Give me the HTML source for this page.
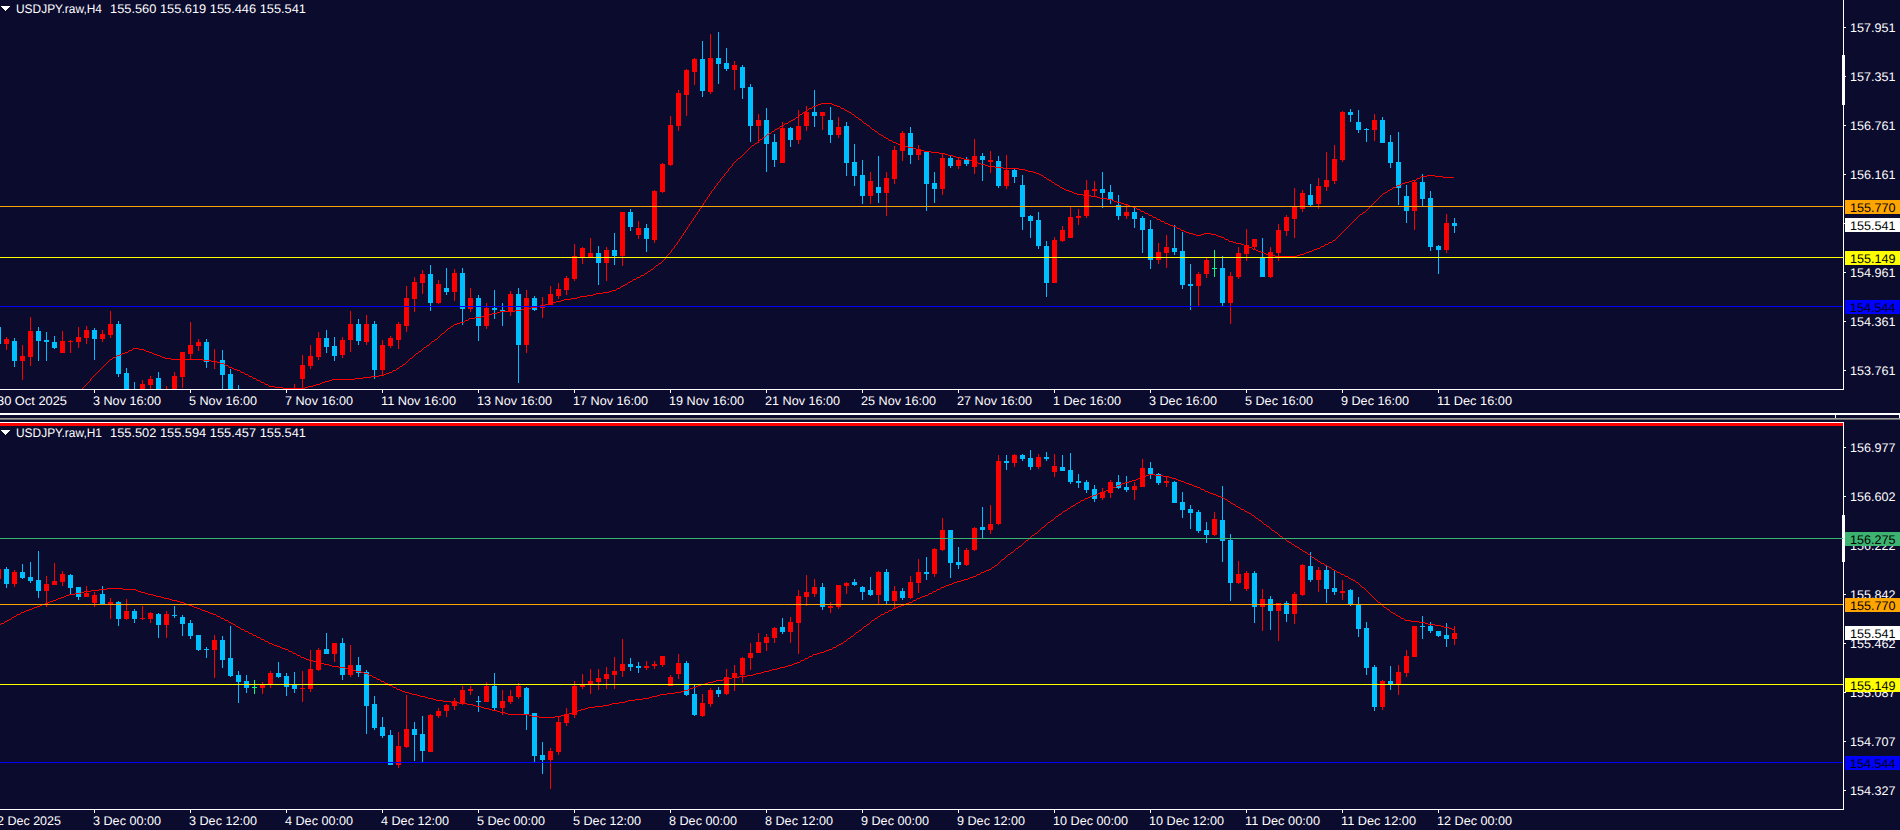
<!DOCTYPE html>
<html><head><meta charset="utf-8"><title>USDJPY.raw</title>
<style>
html,body{margin:0;padding:0;background:#0b0b2e;width:1900px;height:830px;overflow:hidden}
svg{display:block;position:absolute;left:0;top:0}
text{white-space:pre;text-rendering:geometricPrecision}
</style></head><body>
<svg width="1900" height="830" viewBox="0 0 1900 830" shape-rendering="crispEdges" font-family="&quot;Liberation Sans&quot;, sans-serif" font-size="12.5">
<defs><clipPath id="ct"><rect x="0" y="0" width="1843" height="389"/></clipPath><clipPath id="cb"><rect x="0" y="426" width="1843" height="383"/></clipPath></defs>
<rect x="0" y="0" width="1900" height="830" fill="#0b0b2e"/>
<g clip-path="url(#ct)">
<g fill="#ff0000">
<rect x="6" y="337" width="1" height="13"/>
<rect x="4" y="339" width="5" height="5"/>
<rect x="22" y="345" width="1" height="35"/>
<rect x="20" y="356" width="5" height="5"/>
<rect x="30" y="317" width="1" height="49"/>
<rect x="28" y="331" width="5" height="26"/>
<rect x="62" y="331" width="1" height="22"/>
<rect x="60" y="341" width="5" height="12"/>
<rect x="70" y="340" width="1" height="13"/>
<rect x="68" y="341" width="5" height="1"/>
<rect x="78" y="327" width="1" height="21"/>
<rect x="76" y="337" width="5" height="5"/>
<rect x="86" y="326" width="1" height="18"/>
<rect x="84" y="330" width="5" height="8"/>
<rect x="102" y="330" width="1" height="12"/>
<rect x="100" y="334" width="5" height="5"/>
<rect x="110" y="311" width="1" height="27"/>
<rect x="108" y="324" width="5" height="11"/>
<rect x="142" y="380" width="1" height="20"/>
<rect x="140" y="384" width="5" height="16"/>
<rect x="150" y="376" width="1" height="24"/>
<rect x="148" y="379" width="5" height="6"/>
<rect x="166" y="386" width="1" height="14"/>
<rect x="164" y="395" width="5" height="5"/>
<rect x="174" y="372" width="1" height="28"/>
<rect x="172" y="376" width="5" height="24"/>
<rect x="182" y="352" width="1" height="36"/>
<rect x="180" y="352" width="5" height="25"/>
<rect x="190" y="322" width="1" height="37"/>
<rect x="188" y="345" width="5" height="9"/>
<rect x="198" y="339" width="1" height="12"/>
<rect x="196" y="342" width="5" height="4"/>
<rect x="214" y="349" width="1" height="20"/>
<rect x="212" y="361" width="5" height="1"/>
<rect x="294" y="384" width="1" height="16"/>
<rect x="292" y="395" width="5" height="5"/>
<rect x="302" y="355" width="1" height="33"/>
<rect x="300" y="365" width="5" height="14"/>
<rect x="310" y="345" width="1" height="24"/>
<rect x="308" y="356" width="5" height="10"/>
<rect x="318" y="332" width="1" height="28"/>
<rect x="316" y="338" width="5" height="19"/>
<rect x="342" y="337" width="1" height="21"/>
<rect x="340" y="340" width="5" height="15"/>
<rect x="350" y="311" width="1" height="41"/>
<rect x="348" y="324" width="5" height="16"/>
<rect x="366" y="315" width="1" height="30"/>
<rect x="364" y="324" width="5" height="18"/>
<rect x="382" y="340" width="1" height="35"/>
<rect x="380" y="345" width="5" height="25"/>
<rect x="390" y="336" width="1" height="12"/>
<rect x="388" y="338" width="5" height="8"/>
<rect x="398" y="322" width="1" height="27"/>
<rect x="396" y="324" width="5" height="16"/>
<rect x="406" y="286" width="1" height="46"/>
<rect x="404" y="298" width="5" height="28"/>
<rect x="414" y="277" width="1" height="35"/>
<rect x="412" y="282" width="5" height="17"/>
<rect x="422" y="270" width="1" height="24"/>
<rect x="420" y="274" width="5" height="9"/>
<rect x="438" y="280" width="1" height="24"/>
<rect x="436" y="284" width="5" height="19"/>
<rect x="454" y="269" width="1" height="32"/>
<rect x="452" y="273" width="5" height="19"/>
<rect x="470" y="288" width="1" height="24"/>
<rect x="468" y="298" width="5" height="11"/>
<rect x="486" y="303" width="1" height="26"/>
<rect x="484" y="308" width="5" height="18"/>
<rect x="510" y="291" width="1" height="25"/>
<rect x="508" y="294" width="5" height="18"/>
<rect x="526" y="290" width="1" height="63"/>
<rect x="524" y="298" width="5" height="47"/>
<rect x="542" y="297" width="1" height="21"/>
<rect x="540" y="307" width="5" height="1"/>
<rect x="550" y="286" width="1" height="19"/>
<rect x="548" y="294" width="5" height="11"/>
<rect x="558" y="283" width="1" height="16"/>
<rect x="556" y="289" width="5" height="7"/>
<rect x="566" y="276" width="1" height="19"/>
<rect x="564" y="278" width="5" height="12"/>
<rect x="574" y="244" width="1" height="37"/>
<rect x="572" y="256" width="5" height="23"/>
<rect x="582" y="247" width="1" height="17"/>
<rect x="580" y="248" width="5" height="9"/>
<rect x="590" y="238" width="1" height="19"/>
<rect x="588" y="253" width="5" height="4"/>
<rect x="606" y="247" width="1" height="34"/>
<rect x="604" y="250" width="5" height="13"/>
<rect x="622" y="212" width="1" height="54"/>
<rect x="620" y="212" width="5" height="44"/>
<rect x="638" y="221" width="1" height="18"/>
<rect x="636" y="228" width="5" height="7"/>
<rect x="654" y="190" width="1" height="53"/>
<rect x="652" y="191" width="5" height="49"/>
<rect x="662" y="163" width="1" height="30"/>
<rect x="660" y="164" width="5" height="28"/>
<rect x="670" y="116" width="1" height="50"/>
<rect x="668" y="125" width="5" height="40"/>
<rect x="678" y="90" width="1" height="41"/>
<rect x="676" y="93" width="5" height="33"/>
<rect x="686" y="69" width="1" height="47"/>
<rect x="684" y="70" width="5" height="25"/>
<rect x="694" y="58" width="1" height="27"/>
<rect x="692" y="59" width="5" height="13"/>
<rect x="710" y="34" width="1" height="60"/>
<rect x="708" y="58" width="5" height="34"/>
<rect x="734" y="61" width="1" height="29"/>
<rect x="732" y="65" width="5" height="5"/>
<rect x="758" y="114" width="1" height="29"/>
<rect x="756" y="120" width="5" height="6"/>
<rect x="782" y="122" width="1" height="41"/>
<rect x="780" y="128" width="5" height="35"/>
<rect x="798" y="110" width="1" height="34"/>
<rect x="796" y="126" width="5" height="14"/>
<rect x="806" y="106" width="1" height="25"/>
<rect x="804" y="112" width="5" height="14"/>
<rect x="822" y="112" width="1" height="18"/>
<rect x="820" y="112" width="5" height="4"/>
<rect x="838" y="117" width="1" height="21"/>
<rect x="836" y="127" width="5" height="8"/>
<rect x="870" y="172" width="1" height="32"/>
<rect x="868" y="181" width="5" height="15"/>
<rect x="886" y="172" width="1" height="44"/>
<rect x="884" y="178" width="5" height="15"/>
<rect x="894" y="146" width="1" height="38"/>
<rect x="892" y="150" width="5" height="29"/>
<rect x="902" y="131" width="1" height="30"/>
<rect x="900" y="133" width="5" height="18"/>
<rect x="918" y="145" width="1" height="15"/>
<rect x="916" y="150" width="5" height="5"/>
<rect x="942" y="154" width="1" height="41"/>
<rect x="940" y="158" width="5" height="31"/>
<rect x="958" y="157" width="1" height="12"/>
<rect x="956" y="160" width="5" height="6"/>
<rect x="974" y="139" width="1" height="35"/>
<rect x="972" y="156" width="5" height="11"/>
<rect x="990" y="151" width="1" height="22"/>
<rect x="988" y="160" width="5" height="2"/>
<rect x="1006" y="155" width="1" height="34"/>
<rect x="1004" y="170" width="5" height="16"/>
<rect x="1054" y="237" width="1" height="46"/>
<rect x="1052" y="240" width="5" height="43"/>
<rect x="1062" y="226" width="1" height="16"/>
<rect x="1060" y="230" width="5" height="11"/>
<rect x="1070" y="207" width="1" height="31"/>
<rect x="1068" y="217" width="5" height="21"/>
<rect x="1078" y="209" width="1" height="16"/>
<rect x="1076" y="216" width="5" height="2"/>
<rect x="1086" y="180" width="1" height="38"/>
<rect x="1084" y="190" width="5" height="26"/>
<rect x="1094" y="181" width="1" height="16"/>
<rect x="1092" y="189" width="5" height="2"/>
<rect x="1126" y="204" width="1" height="15"/>
<rect x="1124" y="212" width="5" height="4"/>
<rect x="1158" y="243" width="1" height="21"/>
<rect x="1156" y="252" width="5" height="8"/>
<rect x="1166" y="235" width="1" height="33"/>
<rect x="1164" y="247" width="5" height="6"/>
<rect x="1198" y="272" width="1" height="34"/>
<rect x="1196" y="274" width="5" height="12"/>
<rect x="1206" y="258" width="1" height="20"/>
<rect x="1204" y="260" width="5" height="14"/>
<rect x="1230" y="272" width="1" height="52"/>
<rect x="1228" y="276" width="5" height="27"/>
<rect x="1238" y="247" width="1" height="32"/>
<rect x="1236" y="253" width="5" height="24"/>
<rect x="1246" y="229" width="1" height="32"/>
<rect x="1244" y="245" width="5" height="9"/>
<rect x="1254" y="239" width="1" height="10"/>
<rect x="1252" y="239" width="5" height="8"/>
<rect x="1270" y="247" width="1" height="31"/>
<rect x="1268" y="252" width="5" height="25"/>
<rect x="1278" y="224" width="1" height="37"/>
<rect x="1276" y="230" width="5" height="23"/>
<rect x="1286" y="215" width="1" height="21"/>
<rect x="1284" y="217" width="5" height="14"/>
<rect x="1294" y="188" width="1" height="50"/>
<rect x="1292" y="206" width="5" height="13"/>
<rect x="1302" y="190" width="1" height="22"/>
<rect x="1300" y="193" width="5" height="16"/>
<rect x="1318" y="178" width="1" height="31"/>
<rect x="1316" y="186" width="5" height="18"/>
<rect x="1326" y="152" width="1" height="39"/>
<rect x="1324" y="180" width="5" height="7"/>
<rect x="1334" y="145" width="1" height="39"/>
<rect x="1332" y="159" width="5" height="22"/>
<rect x="1342" y="111" width="1" height="51"/>
<rect x="1340" y="112" width="5" height="48"/>
<rect x="1374" y="114" width="1" height="27"/>
<rect x="1372" y="120" width="5" height="10"/>
<rect x="1414" y="180" width="1" height="50"/>
<rect x="1412" y="182" width="5" height="29"/>
<rect x="1446" y="214" width="1" height="39"/>
<rect x="1444" y="223" width="5" height="27"/>
</g>
<g fill="#00bfff">
<rect x="-2" y="327" width="1" height="17"/>
<rect x="-4" y="327" width="5" height="17"/>
<rect x="14" y="338" width="1" height="29"/>
<rect x="12" y="341" width="5" height="20"/>
<rect x="38" y="327" width="1" height="34"/>
<rect x="36" y="331" width="5" height="10"/>
<rect x="46" y="332" width="1" height="29"/>
<rect x="44" y="340" width="5" height="2"/>
<rect x="54" y="336" width="1" height="13"/>
<rect x="52" y="342" width="5" height="6"/>
<rect x="94" y="328" width="1" height="32"/>
<rect x="92" y="330" width="5" height="9"/>
<rect x="118" y="321" width="1" height="56"/>
<rect x="116" y="324" width="5" height="50"/>
<rect x="126" y="368" width="1" height="32"/>
<rect x="124" y="373" width="5" height="27"/>
<rect x="134" y="382" width="1" height="18"/>
<rect x="132" y="395" width="5" height="5"/>
<rect x="158" y="372" width="1" height="28"/>
<rect x="156" y="378" width="5" height="22"/>
<rect x="206" y="339" width="1" height="29"/>
<rect x="204" y="342" width="5" height="20"/>
<rect x="222" y="350" width="1" height="50"/>
<rect x="220" y="360" width="5" height="15"/>
<rect x="230" y="369" width="1" height="31"/>
<rect x="228" y="374" width="5" height="26"/>
<rect x="238" y="385" width="1" height="15"/>
<rect x="236" y="395" width="5" height="5"/>
<rect x="326" y="330" width="1" height="23"/>
<rect x="324" y="338" width="5" height="9"/>
<rect x="334" y="337" width="1" height="24"/>
<rect x="332" y="346" width="5" height="10"/>
<rect x="358" y="319" width="1" height="26"/>
<rect x="356" y="324" width="5" height="17"/>
<rect x="374" y="321" width="1" height="58"/>
<rect x="372" y="324" width="5" height="46"/>
<rect x="430" y="265" width="1" height="46"/>
<rect x="428" y="274" width="5" height="29"/>
<rect x="446" y="268" width="1" height="27"/>
<rect x="444" y="288" width="5" height="4"/>
<rect x="462" y="268" width="1" height="57"/>
<rect x="460" y="273" width="5" height="36"/>
<rect x="478" y="295" width="1" height="46"/>
<rect x="476" y="298" width="5" height="28"/>
<rect x="494" y="290" width="1" height="29"/>
<rect x="492" y="308" width="5" height="2"/>
<rect x="502" y="303" width="1" height="23"/>
<rect x="500" y="310" width="5" height="1"/>
<rect x="518" y="288" width="1" height="95"/>
<rect x="516" y="294" width="5" height="51"/>
<rect x="534" y="296" width="1" height="15"/>
<rect x="532" y="298" width="5" height="12"/>
<rect x="598" y="246" width="1" height="39"/>
<rect x="596" y="253" width="5" height="10"/>
<rect x="614" y="233" width="1" height="32"/>
<rect x="612" y="250" width="5" height="6"/>
<rect x="630" y="209" width="1" height="22"/>
<rect x="628" y="212" width="5" height="15"/>
<rect x="646" y="224" width="1" height="28"/>
<rect x="644" y="228" width="5" height="11"/>
<rect x="702" y="41" width="1" height="56"/>
<rect x="700" y="59" width="5" height="32"/>
<rect x="718" y="32" width="1" height="52"/>
<rect x="716" y="58" width="5" height="6"/>
<rect x="726" y="48" width="1" height="23"/>
<rect x="724" y="63" width="5" height="6"/>
<rect x="742" y="65" width="1" height="34"/>
<rect x="740" y="67" width="5" height="21"/>
<rect x="750" y="84" width="1" height="58"/>
<rect x="748" y="87" width="5" height="39"/>
<rect x="766" y="108" width="1" height="64"/>
<rect x="764" y="120" width="5" height="24"/>
<rect x="774" y="134" width="1" height="33"/>
<rect x="772" y="142" width="5" height="18"/>
<rect x="790" y="127" width="1" height="20"/>
<rect x="788" y="128" width="5" height="12"/>
<rect x="814" y="90" width="1" height="37"/>
<rect x="812" y="112" width="5" height="4"/>
<rect x="830" y="107" width="1" height="36"/>
<rect x="828" y="120" width="5" height="15"/>
<rect x="846" y="122" width="1" height="54"/>
<rect x="844" y="126" width="5" height="37"/>
<rect x="854" y="144" width="1" height="42"/>
<rect x="852" y="162" width="5" height="14"/>
<rect x="862" y="160" width="1" height="44"/>
<rect x="860" y="175" width="5" height="21"/>
<rect x="878" y="156" width="1" height="47"/>
<rect x="876" y="187" width="5" height="6"/>
<rect x="910" y="127" width="1" height="37"/>
<rect x="908" y="133" width="5" height="22"/>
<rect x="926" y="151" width="1" height="60"/>
<rect x="924" y="151" width="5" height="33"/>
<rect x="934" y="172" width="1" height="31"/>
<rect x="932" y="183" width="5" height="6"/>
<rect x="950" y="155" width="1" height="13"/>
<rect x="948" y="158" width="5" height="8"/>
<rect x="966" y="157" width="1" height="9"/>
<rect x="964" y="160" width="5" height="4"/>
<rect x="982" y="153" width="1" height="28"/>
<rect x="980" y="156" width="5" height="4"/>
<rect x="998" y="156" width="1" height="32"/>
<rect x="996" y="161" width="5" height="25"/>
<rect x="1014" y="169" width="1" height="14"/>
<rect x="1012" y="170" width="5" height="7"/>
<rect x="1022" y="175" width="1" height="55"/>
<rect x="1020" y="185" width="5" height="32"/>
<rect x="1030" y="215" width="1" height="23"/>
<rect x="1028" y="216" width="5" height="5"/>
<rect x="1038" y="212" width="1" height="37"/>
<rect x="1036" y="220" width="5" height="26"/>
<rect x="1046" y="241" width="1" height="56"/>
<rect x="1044" y="246" width="5" height="37"/>
<rect x="1102" y="172" width="1" height="36"/>
<rect x="1100" y="189" width="5" height="4"/>
<rect x="1110" y="185" width="1" height="19"/>
<rect x="1108" y="192" width="5" height="8"/>
<rect x="1118" y="195" width="1" height="25"/>
<rect x="1116" y="205" width="5" height="11"/>
<rect x="1134" y="208" width="1" height="20"/>
<rect x="1132" y="212" width="5" height="7"/>
<rect x="1142" y="216" width="1" height="37"/>
<rect x="1140" y="218" width="5" height="12"/>
<rect x="1150" y="220" width="1" height="49"/>
<rect x="1148" y="229" width="5" height="31"/>
<rect x="1174" y="225" width="1" height="30"/>
<rect x="1172" y="248" width="5" height="4"/>
<rect x="1182" y="232" width="1" height="57"/>
<rect x="1180" y="251" width="5" height="34"/>
<rect x="1190" y="264" width="1" height="46"/>
<rect x="1188" y="284" width="5" height="2"/>
<rect x="1222" y="256" width="1" height="50"/>
<rect x="1220" y="268" width="5" height="35"/>
<rect x="1262" y="238" width="1" height="39"/>
<rect x="1260" y="258" width="5" height="19"/>
<rect x="1310" y="184" width="1" height="22"/>
<rect x="1308" y="195" width="5" height="10"/>
<rect x="1350" y="109" width="1" height="13"/>
<rect x="1348" y="112" width="5" height="3"/>
<rect x="1358" y="110" width="1" height="23"/>
<rect x="1356" y="122" width="5" height="8"/>
<rect x="1366" y="128" width="1" height="14"/>
<rect x="1364" y="129" width="5" height="1"/>
<rect x="1382" y="117" width="1" height="26"/>
<rect x="1380" y="120" width="5" height="23"/>
<rect x="1390" y="135" width="1" height="33"/>
<rect x="1388" y="142" width="5" height="21"/>
<rect x="1398" y="132" width="1" height="73"/>
<rect x="1396" y="162" width="5" height="26"/>
<rect x="1406" y="185" width="1" height="38"/>
<rect x="1404" y="196" width="5" height="15"/>
<rect x="1422" y="174" width="1" height="32"/>
<rect x="1420" y="182" width="5" height="17"/>
<rect x="1430" y="191" width="1" height="60"/>
<rect x="1428" y="198" width="5" height="49"/>
<rect x="1438" y="245" width="1" height="29"/>
<rect x="1436" y="246" width="5" height="4"/>
<rect x="1454" y="218" width="1" height="15"/>
<rect x="1452" y="223" width="5" height="3"/>
</g>
<g fill="#00ff7f">
<rect x="1214" y="250" width="1" height="27"/>
<rect x="1212" y="268" width="5" height="1"/>
</g>
</g>
<path fill="#ff0000" d="M821 103h11v1h-11zM818 104h3v1h-3zM832 104h2v1h-2zM816 105h2v1h-2zM834 105h3v1h-3zM813 106h3v1h-3zM837 106h3v1h-3zM812 107h1v1h-1zM840 107h1v1h-1zM809 108h3v1h-3zM841 108h3v1h-3zM808 109h1v1h-1zM844 109h1v1h-1zM806 110h2v1h-2zM845 110h2v1h-2zM805 111h1v1h-1zM847 111h2v1h-2zM803 112h2v1h-2zM849 112h2v1h-2zM802 113h1v1h-1zM851 113h1v1h-1zM800 114h2v1h-2zM852 114h2v1h-2zM799 115h1v1h-1zM854 115h1v1h-1zM798 116h1v1h-1zM855 116h1v1h-1zM796 117h2v1h-2zM856 117h2v1h-2zM795 118h1v1h-1zM858 118h1v1h-1zM793 119h2v1h-2zM859 119h2v1h-2zM791 120h2v1h-2zM861 120h1v1h-1zM789 121h2v1h-2zM862 121h1v1h-1zM788 122h1v1h-1zM863 122h1v1h-1zM785 123h3v1h-3zM864 123h2v1h-2zM784 124h1v1h-1zM866 124h1v1h-1zM782 125h2v1h-2zM867 125h2v1h-2zM780 126h2v1h-2zM869 126h1v1h-1zM779 127h1v1h-1zM870 127h1v1h-1zM777 128h2v1h-2zM871 128h1v1h-1zM775 129h2v1h-2zM872 129h2v1h-2zM774 130h1v1h-1zM874 130h1v1h-1zM772 131h2v1h-2zM875 131h2v1h-2zM771 132h1v1h-1zM877 132h1v1h-1zM769 133h2v1h-2zM878 133h1v1h-1zM767 134h2v1h-2zM879 134h2v1h-2zM766 135h1v1h-1zM881 135h2v1h-2zM765 136h1v1h-1zM883 136h1v1h-1zM763 137h2v1h-2zM884 137h2v1h-2zM762 138h1v1h-1zM886 138h2v1h-2zM760 139h2v1h-2zM888 139h1v1h-1zM759 140h1v1h-1zM889 140h3v1h-3zM758 141h1v1h-1zM892 141h1v1h-1zM757 142h1v1h-1zM893 142h3v1h-3zM755 143h2v1h-2zM896 143h2v1h-2zM754 144h1v1h-1zM898 144h3v1h-3zM752 145h2v1h-2zM901 145h4v1h-4zM751 146h1v1h-1zM905 146h3v1h-3zM750 147h1v1h-1zM908 147h5v1h-5zM749 148h1v1h-1zM913 148h3v1h-3zM748 149h1v1h-1zM916 149h5v1h-5zM747 150h1v1h-1zM921 150h3v1h-3zM746 151h1v1h-1zM924 151h7v1h-7zM745 152h1v1h-1zM931 152h8v1h-8zM744 153h1v1h-1zM939 153h6v1h-6zM743 154h1v1h-1zM945 154h3v1h-3zM742 155h1v1h-1zM948 155h5v1h-5zM741 156h1v1h-1zM953 156h3v1h-3zM740 157h1v1h-1zM956 157h5v1h-5zM738 158h2v1h-2zM961 158h3v1h-3zM737 159h1v1h-1zM964 159h5v1h-5zM736 160h1v1h-1zM969 160h3v1h-3zM735 161h1v1h-1zM972 161h4v1h-4zM734 162h1v1h-1zM976 162h2v1h-2zM733 163h1v1h-1zM978 163h3v1h-3zM732 164h1v1h-1zM981 164h4v1h-4zM732 165h1v1h-1zM985 165h3v1h-3zM731 166h1v1h-1zM988 166h7v1h-7zM730 167h1v1h-1zM995 167h8v1h-8zM729 168h1v1h-1zM1003 168h16v1h-16zM728 169h1v1h-1zM1019 169h6v1h-6zM728 170h1v1h-1zM1025 170h3v1h-3zM727 171h1v1h-1zM1028 171h5v1h-5zM726 172h1v1h-1zM1033 172h3v1h-3zM725 173h1v1h-1zM1036 173h3v1h-3zM724 174h1v1h-1zM1039 174h2v1h-2zM724 175h1v1h-1zM1041 175h2v1h-2zM1427 175h8v1h-8zM723 176h1v1h-1zM1043 176h1v1h-1zM1421 176h6v1h-6zM1435 176h8v1h-8zM722 177h1v1h-1zM1044 177h2v1h-2zM1420 177h1v1h-1zM1443 177h11v1h-11zM721 178h1v1h-1zM1046 178h1v1h-1zM1417 178h3v1h-3zM720 179h1v1h-1zM1047 179h2v1h-2zM1416 179h1v1h-1zM720 180h1v1h-1zM1049 180h2v1h-2zM1412 180h4v1h-4zM719 181h1v1h-1zM1051 181h1v1h-1zM1409 181h3v1h-3zM718 182h1v1h-1zM1052 182h2v1h-2zM1405 182h4v1h-4zM717 183h1v1h-1zM1054 183h1v1h-1zM1402 183h3v1h-3zM717 184h1v1h-1zM1055 184h2v1h-2zM1400 184h2v1h-2zM716 185h1v1h-1zM1057 185h2v1h-2zM1397 185h3v1h-3zM715 186h1v1h-1zM1059 186h1v1h-1zM1396 186h1v1h-1zM714 187h1v1h-1zM1060 187h2v1h-2zM1393 187h3v1h-3zM714 188h1v1h-1zM1062 188h2v1h-2zM1392 188h1v1h-1zM713 189h1v1h-1zM1064 189h2v1h-2zM1390 189h2v1h-2zM712 190h1v1h-1zM1066 190h3v1h-3zM1388 190h2v1h-2zM711 191h1v1h-1zM1069 191h3v1h-3zM1387 191h1v1h-1zM711 192h1v1h-1zM1072 192h2v1h-2zM1385 192h2v1h-2zM710 193h1v1h-1zM1074 193h3v1h-3zM1383 193h2v1h-2zM709 194h1v1h-1zM1077 194h6v1h-6zM1382 194h1v1h-1zM709 195h1v1h-1zM1083 195h8v1h-8zM1381 195h1v1h-1zM708 196h1v1h-1zM1091 196h6v1h-6zM1380 196h1v1h-1zM707 197h1v1h-1zM1097 197h3v1h-3zM1379 197h1v1h-1zM707 198h1v1h-1zM1100 198h7v1h-7zM1378 198h1v1h-1zM706 199h1v1h-1zM1107 199h5v1h-5zM1377 199h1v1h-1zM705 200h1v1h-1zM1112 200h2v1h-2zM1376 200h1v1h-1zM705 201h1v1h-1zM1114 201h3v1h-3zM1375 201h1v1h-1zM704 202h1v1h-1zM1117 202h4v1h-4zM1374 202h1v1h-1zM703 203h1v1h-1zM1121 203h3v1h-3zM1373 203h1v1h-1zM703 204h1v1h-1zM1124 204h4v1h-4zM1372 204h1v1h-1zM702 205h1v1h-1zM1128 205h2v1h-2zM1371 205h1v1h-1zM701 206h1v1h-1zM1130 206h3v1h-3zM1370 206h1v1h-1zM701 207h1v1h-1zM1133 207h3v1h-3zM1369 207h1v1h-1zM700 208h1v1h-1zM1136 208h1v1h-1zM1368 208h1v1h-1zM699 209h1v1h-1zM1137 209h3v1h-3zM1367 209h1v1h-1zM699 210h1v1h-1zM1140 210h1v1h-1zM1366 210h1v1h-1zM698 211h1v1h-1zM1141 211h3v1h-3zM1365 211h1v1h-1zM697 212h1v1h-1zM1144 212h1v1h-1zM1363 212h2v1h-2zM697 213h1v1h-1zM1145 213h3v1h-3zM1362 213h1v1h-1zM696 214h1v1h-1zM1148 214h1v1h-1zM1360 214h2v1h-2zM695 215h1v1h-1zM1149 215h3v1h-3zM1359 215h1v1h-1zM695 216h1v1h-1zM1152 216h1v1h-1zM1358 216h1v1h-1zM694 217h1v1h-1zM1153 217h3v1h-3zM1357 217h1v1h-1zM693 218h1v1h-1zM1156 218h1v1h-1zM1356 218h1v1h-1zM693 219h1v1h-1zM1157 219h3v1h-3zM1355 219h1v1h-1zM692 220h1v1h-1zM1160 220h1v1h-1zM1354 220h1v1h-1zM691 221h1v1h-1zM1161 221h3v1h-3zM1353 221h1v1h-1zM691 222h1v1h-1zM1164 222h1v1h-1zM1352 222h1v1h-1zM690 223h1v1h-1zM1165 223h3v1h-3zM1351 223h1v1h-1zM689 224h1v1h-1zM1168 224h2v1h-2zM1350 224h1v1h-1zM689 225h1v1h-1zM1170 225h3v1h-3zM1349 225h1v1h-1zM688 226h1v1h-1zM1173 226h3v1h-3zM1348 226h1v1h-1zM687 227h1v1h-1zM1176 227h1v1h-1zM1347 227h1v1h-1zM687 228h1v1h-1zM1177 228h3v1h-3zM1346 228h1v1h-1zM686 229h1v1h-1zM1180 229h1v1h-1zM1345 229h1v1h-1zM685 230h1v1h-1zM1181 230h3v1h-3zM1344 230h1v1h-1zM685 231h1v1h-1zM1184 231h2v1h-2zM1343 231h1v1h-1zM684 232h1v1h-1zM1186 232h3v1h-3zM1342 232h1v1h-1zM683 233h1v1h-1zM1189 233h4v1h-4zM1204 233h7v1h-7zM1341 233h1v1h-1zM683 234h1v1h-1zM1193 234h3v1h-3zM1201 234h3v1h-3zM1211 234h5v1h-5zM1340 234h1v1h-1zM682 235h1v1h-1zM1196 235h5v1h-5zM1216 235h2v1h-2zM1339 235h1v1h-1zM681 236h1v1h-1zM1218 236h3v1h-3zM1338 236h1v1h-1zM681 237h1v1h-1zM1221 237h3v1h-3zM1337 237h1v1h-1zM680 238h1v1h-1zM1224 238h1v1h-1zM1336 238h1v1h-1zM679 239h1v1h-1zM1225 239h3v1h-3zM1335 239h1v1h-1zM679 240h1v1h-1zM1228 240h1v1h-1zM1333 240h2v1h-2zM678 241h1v1h-1zM1229 241h4v1h-4zM1332 241h1v1h-1zM677 242h1v1h-1zM1233 242h3v1h-3zM1329 242h3v1h-3zM677 243h1v1h-1zM1236 243h5v1h-5zM1328 243h1v1h-1zM676 244h1v1h-1zM1241 244h3v1h-3zM1325 244h3v1h-3zM675 245h1v1h-1zM1244 245h4v1h-4zM1324 245h1v1h-1zM674 246h1v1h-1zM1248 246h1v1h-1zM1321 246h3v1h-3zM674 247h1v1h-1zM1249 247h3v1h-3zM1320 247h1v1h-1zM673 248h1v1h-1zM1252 248h1v1h-1zM1317 248h3v1h-3zM672 249h1v1h-1zM1253 249h3v1h-3zM1314 249h3v1h-3zM671 250h1v1h-1zM1256 250h2v1h-2zM1312 250h2v1h-2zM671 251h1v1h-1zM1258 251h3v1h-3zM1309 251h3v1h-3zM670 252h1v1h-1zM1261 252h3v1h-3zM1306 252h3v1h-3zM669 253h1v1h-1zM1264 253h2v1h-2zM1304 253h2v1h-2zM668 254h1v1h-1zM1266 254h3v1h-3zM1300 254h4v1h-4zM667 255h1v1h-1zM1269 255h6v1h-6zM1297 255h3v1h-3zM666 256h1v1h-1zM1275 256h22v1h-22zM666 257h1v1h-1zM665 258h1v1h-1zM664 259h1v1h-1zM663 260h1v1h-1zM662 261h1v1h-1zM661 262h1v1h-1zM659 263h2v1h-2zM658 264h1v1h-1zM656 265h2v1h-2zM655 266h1v1h-1zM654 267h1v1h-1zM653 268h1v1h-1zM651 269h2v1h-2zM650 270h1v1h-1zM648 271h2v1h-2zM647 272h1v1h-1zM645 273h2v1h-2zM644 274h1v1h-1zM641 275h3v1h-3zM640 276h1v1h-1zM637 277h3v1h-3zM636 278h1v1h-1zM633 279h3v1h-3zM632 280h1v1h-1zM630 281h2v1h-2zM628 282h2v1h-2zM627 283h1v1h-1zM625 284h2v1h-2zM623 285h2v1h-2zM621 286h2v1h-2zM620 287h1v1h-1zM617 288h3v1h-3zM616 289h1v1h-1zM612 290h4v1h-4zM609 291h3v1h-3zM603 292h6v1h-6zM596 293h7v1h-7zM593 294h3v1h-3zM587 295h6v1h-6zM580 296h7v1h-7zM577 297h3v1h-3zM571 298h6v1h-6zM564 299h7v1h-7zM561 300h3v1h-3zM556 301h5v1h-5zM553 302h3v1h-3zM548 303h5v1h-5zM545 304h3v1h-3zM540 305h5v1h-5zM537 306h3v1h-3zM531 307h6v1h-6zM524 308h7v1h-7zM521 309h3v1h-3zM515 310h6v1h-6zM500 311h15v1h-15zM497 312h3v1h-3zM492 313h5v1h-5zM489 314h3v1h-3zM484 315h5v1h-5zM481 316h3v1h-3zM475 317h6v1h-6zM469 318h6v1h-6zM468 319h1v1h-1zM465 320h3v1h-3zM464 321h1v1h-1zM460 322h4v1h-4zM457 323h3v1h-3zM454 324h3v1h-3zM453 325h1v1h-1zM451 326h2v1h-2zM450 327h1v1h-1zM448 328h2v1h-2zM447 329h1v1h-1zM446 330h1v1h-1zM445 331h1v1h-1zM444 332h1v1h-1zM442 333h2v1h-2zM441 334h1v1h-1zM440 335h1v1h-1zM439 336h1v1h-1zM438 337h1v1h-1zM437 338h1v1h-1zM435 339h2v1h-2zM434 340h1v1h-1zM432 341h2v1h-2zM431 342h1v1h-1zM430 343h1v1h-1zM429 344h1v1h-1zM427 345h2v1h-2zM426 346h1v1h-1zM424 347h2v1h-2zM133 348h6v1h-6zM423 348h1v1h-1zM132 349h1v1h-1zM139 349h5v1h-5zM422 349h1v1h-1zM129 350h3v1h-3zM144 350h2v1h-2zM421 350h1v1h-1zM128 351h1v1h-1zM146 351h3v1h-3zM419 351h2v1h-2zM125 352h3v1h-3zM149 352h3v1h-3zM418 352h1v1h-1zM122 353h3v1h-3zM152 353h2v1h-2zM416 353h2v1h-2zM120 354h2v1h-2zM154 354h3v1h-3zM415 354h1v1h-1zM117 355h3v1h-3zM157 355h3v1h-3zM414 355h1v1h-1zM116 356h1v1h-1zM160 356h2v1h-2zM413 356h1v1h-1zM113 357h3v1h-3zM162 357h3v1h-3zM412 357h1v1h-1zM112 358h1v1h-1zM165 358h6v1h-6zM410 358h2v1h-2zM110 359h2v1h-2zM171 359h32v1h-32zM409 359h1v1h-1zM109 360h1v1h-1zM203 360h8v1h-8zM408 360h1v1h-1zM108 361h1v1h-1zM211 361h6v1h-6zM407 361h1v1h-1zM107 362h1v1h-1zM217 362h3v1h-3zM406 362h1v1h-1zM106 363h1v1h-1zM220 363h4v1h-4zM405 363h1v1h-1zM105 364h1v1h-1zM224 364h1v1h-1zM403 364h2v1h-2zM104 365h1v1h-1zM225 365h3v1h-3zM402 365h1v1h-1zM103 366h1v1h-1zM228 366h1v1h-1zM400 366h2v1h-2zM102 367h1v1h-1zM229 367h3v1h-3zM399 367h1v1h-1zM101 368h1v1h-1zM232 368h2v1h-2zM397 368h2v1h-2zM100 369h1v1h-1zM234 369h3v1h-3zM396 369h1v1h-1zM99 370h1v1h-1zM237 370h3v1h-3zM393 370h3v1h-3zM98 371h1v1h-1zM240 371h1v1h-1zM392 371h1v1h-1zM97 372h1v1h-1zM241 372h3v1h-3zM389 372h3v1h-3zM96 373h1v1h-1zM244 373h1v1h-1zM386 373h3v1h-3zM95 374h1v1h-1zM245 374h3v1h-3zM384 374h2v1h-2zM94 375h1v1h-1zM248 375h1v1h-1zM379 375h5v1h-5zM93 376h1v1h-1zM249 376h3v1h-3zM371 376h8v1h-8zM92 377h1v1h-1zM252 377h1v1h-1zM363 377h8v1h-8zM91 378h1v1h-1zM253 378h3v1h-3zM355 378h8v1h-8zM90 379h1v1h-1zM256 379h1v1h-1zM332 379h23v1h-23zM90 380h1v1h-1zM257 380h3v1h-3zM329 380h3v1h-3zM89 381h1v1h-1zM260 381h1v1h-1zM325 381h4v1h-4zM88 382h1v1h-1zM261 382h3v1h-3zM322 382h3v1h-3zM87 383h1v1h-1zM264 383h1v1h-1zM320 383h2v1h-2zM86 384h1v1h-1zM265 384h3v1h-3zM316 384h4v1h-4zM85 385h1v1h-1zM268 385h1v1h-1zM313 385h3v1h-3zM84 386h1v1h-1zM269 386h6v1h-6zM308 386h5v1h-5zM83 387h1v1h-1zM275 387h8v1h-8zM305 387h3v1h-3zM82 388h1v1h-1zM283 388h22v1h-22z"/>
<rect x="0" y="206" width="1843" height="1" fill="#ffa500"/>
<rect x="0" y="257" width="1843" height="1" fill="#ffff00"/>
<rect x="0" y="306" width="1843" height="1" fill="#0000ff"/>
<rect x="1843" y="0" width="1" height="390" fill="#fff"/>
<rect x="0" y="389" width="1844" height="1" fill="#fff"/>
<rect x="1842" y="55" width="3" height="50" fill="#fff"/>
<rect x="1844" y="27" width="2" height="1" fill="#fff"/>
<text x="1850" y="32" fill="#fff" textLength="45.5" lengthAdjust="spacingAndGlyphs">157.951</text>
<rect x="1844" y="76" width="2" height="1" fill="#fff"/>
<text x="1850" y="81" fill="#fff" textLength="45.5" lengthAdjust="spacingAndGlyphs">157.351</text>
<rect x="1844" y="125" width="2" height="1" fill="#fff"/>
<text x="1850" y="130" fill="#fff" textLength="45.5" lengthAdjust="spacingAndGlyphs">156.761</text>
<rect x="1844" y="174" width="2" height="1" fill="#fff"/>
<text x="1850" y="179" fill="#fff" textLength="45.5" lengthAdjust="spacingAndGlyphs">156.161</text>
<rect x="1844" y="272" width="2" height="1" fill="#fff"/>
<text x="1850" y="277" fill="#fff" textLength="45.5" lengthAdjust="spacingAndGlyphs">154.961</text>
<rect x="1844" y="321" width="2" height="1" fill="#fff"/>
<text x="1850" y="326" fill="#fff" textLength="45.5" lengthAdjust="spacingAndGlyphs">154.361</text>
<rect x="1844" y="370" width="2" height="1" fill="#fff"/>
<text x="1850" y="375" fill="#fff" textLength="45.5" lengthAdjust="spacingAndGlyphs">153.761</text>
<rect x="1845" y="200" width="55" height="14" fill="#ffa500"/>
<text x="1850" y="212" fill="#000" textLength="45.5" lengthAdjust="spacingAndGlyphs">155.770</text>
<rect x="1844" y="223" width="1" height="1" fill="#fff"/>
<rect x="1845" y="218" width="55" height="14" fill="#ffffff"/>
<text x="1850" y="230" fill="#000" textLength="45.5" lengthAdjust="spacingAndGlyphs">155.541</text>
<rect x="1845" y="251" width="55" height="14" fill="#ffff00"/>
<text x="1850" y="263" fill="#000" textLength="45.5" lengthAdjust="spacingAndGlyphs">155.149</text>
<rect x="1845" y="300" width="55" height="14" fill="#0000ff"/>
<text x="1850" y="312" fill="#000" textLength="45.5" lengthAdjust="spacingAndGlyphs">154.544</text>
<path d="M1 6h9l-4.5 5z" fill="#fff" shape-rendering="crispEdges"/>
<text x="16" y="13" fill="#fff" textLength="86" lengthAdjust="spacingAndGlyphs">USDJPY.raw,H4</text>
<text x="110" y="13" fill="#fff" textLength="196" lengthAdjust="spacingAndGlyphs">155.560 155.619 155.446 155.541</text>
<text x="-3" y="405" fill="#fff" textLength="70" lengthAdjust="spacingAndGlyphs">30 Oct 2025</text>
<rect x="94" y="390" width="1" height="3" fill="#fff"/>
<text x="93" y="405" fill="#fff" textLength="68" lengthAdjust="spacingAndGlyphs">3 Nov 16:00</text>
<rect x="190" y="390" width="1" height="3" fill="#fff"/>
<text x="189" y="405" fill="#fff" textLength="68" lengthAdjust="spacingAndGlyphs">5 Nov 16:00</text>
<rect x="286" y="390" width="1" height="3" fill="#fff"/>
<text x="285" y="405" fill="#fff" textLength="68" lengthAdjust="spacingAndGlyphs">7 Nov 16:00</text>
<rect x="382" y="390" width="1" height="3" fill="#fff"/>
<text x="381" y="405" fill="#fff" textLength="75" lengthAdjust="spacingAndGlyphs">11 Nov 16:00</text>
<rect x="478" y="390" width="1" height="3" fill="#fff"/>
<text x="477" y="405" fill="#fff" textLength="75" lengthAdjust="spacingAndGlyphs">13 Nov 16:00</text>
<rect x="574" y="390" width="1" height="3" fill="#fff"/>
<text x="573" y="405" fill="#fff" textLength="75" lengthAdjust="spacingAndGlyphs">17 Nov 16:00</text>
<rect x="670" y="390" width="1" height="3" fill="#fff"/>
<text x="669" y="405" fill="#fff" textLength="75" lengthAdjust="spacingAndGlyphs">19 Nov 16:00</text>
<rect x="766" y="390" width="1" height="3" fill="#fff"/>
<text x="765" y="405" fill="#fff" textLength="75" lengthAdjust="spacingAndGlyphs">21 Nov 16:00</text>
<rect x="862" y="390" width="1" height="3" fill="#fff"/>
<text x="861" y="405" fill="#fff" textLength="75" lengthAdjust="spacingAndGlyphs">25 Nov 16:00</text>
<rect x="958" y="390" width="1" height="3" fill="#fff"/>
<text x="957" y="405" fill="#fff" textLength="75" lengthAdjust="spacingAndGlyphs">27 Nov 16:00</text>
<rect x="1054" y="390" width="1" height="3" fill="#fff"/>
<text x="1053" y="405" fill="#fff" textLength="68" lengthAdjust="spacingAndGlyphs">1 Dec 16:00</text>
<rect x="1150" y="390" width="1" height="3" fill="#fff"/>
<text x="1149" y="405" fill="#fff" textLength="68" lengthAdjust="spacingAndGlyphs">3 Dec 16:00</text>
<rect x="1246" y="390" width="1" height="3" fill="#fff"/>
<text x="1245" y="405" fill="#fff" textLength="68" lengthAdjust="spacingAndGlyphs">5 Dec 16:00</text>
<rect x="1342" y="390" width="1" height="3" fill="#fff"/>
<text x="1341" y="405" fill="#fff" textLength="68" lengthAdjust="spacingAndGlyphs">9 Dec 16:00</text>
<rect x="1438" y="390" width="1" height="3" fill="#fff"/>
<text x="1437" y="405" fill="#fff" textLength="75" lengthAdjust="spacingAndGlyphs">11 Dec 16:00</text>
<rect x="0" y="413" width="1900" height="2" fill="#fff"/>
<rect x="1835" y="415" width="1" height="3" fill="#fff"/>
<rect x="1899" y="415" width="1" height="3" fill="#fff"/>
<rect x="0" y="418" width="1900" height="1" fill="#a0a0a0"/>
<rect x="0" y="419" width="1900" height="1" fill="#696969"/>
<g clip-path="url(#cb)">
<g fill="#ff0000">
<rect x="-2" y="569" width="1" height="10"/>
<rect x="-4" y="569" width="5" height="10"/>
<rect x="14" y="570" width="1" height="17"/>
<rect x="12" y="572" width="5" height="12"/>
<rect x="46" y="576" width="1" height="31"/>
<rect x="44" y="584" width="5" height="7"/>
<rect x="54" y="563" width="1" height="22"/>
<rect x="52" y="581" width="5" height="4"/>
<rect x="62" y="571" width="1" height="15"/>
<rect x="60" y="574" width="5" height="8"/>
<rect x="86" y="586" width="1" height="11"/>
<rect x="84" y="593" width="5" height="4"/>
<rect x="94" y="592" width="1" height="15"/>
<rect x="92" y="595" width="5" height="8"/>
<rect x="110" y="598" width="1" height="21"/>
<rect x="108" y="602" width="5" height="3"/>
<rect x="126" y="599" width="1" height="21"/>
<rect x="124" y="611" width="5" height="8"/>
<rect x="142" y="606" width="1" height="14"/>
<rect x="140" y="618" width="5" height="1"/>
<rect x="150" y="612" width="1" height="11"/>
<rect x="148" y="613" width="5" height="6"/>
<rect x="166" y="611" width="1" height="27"/>
<rect x="164" y="614" width="5" height="11"/>
<rect x="214" y="635" width="1" height="43"/>
<rect x="212" y="640" width="5" height="10"/>
<rect x="262" y="682" width="1" height="12"/>
<rect x="260" y="685" width="5" height="3"/>
<rect x="270" y="671" width="1" height="17"/>
<rect x="268" y="673" width="5" height="12"/>
<rect x="302" y="671" width="1" height="31"/>
<rect x="300" y="688" width="5" height="1"/>
<rect x="310" y="650" width="1" height="42"/>
<rect x="308" y="669" width="5" height="20"/>
<rect x="318" y="648" width="1" height="23"/>
<rect x="316" y="650" width="5" height="20"/>
<rect x="334" y="643" width="1" height="19"/>
<rect x="332" y="643" width="5" height="11"/>
<rect x="350" y="645" width="1" height="32"/>
<rect x="348" y="665" width="5" height="10"/>
<rect x="398" y="732" width="1" height="36"/>
<rect x="396" y="746" width="5" height="19"/>
<rect x="406" y="695" width="1" height="53"/>
<rect x="404" y="729" width="5" height="18"/>
<rect x="430" y="714" width="1" height="38"/>
<rect x="428" y="715" width="5" height="37"/>
<rect x="438" y="708" width="1" height="10"/>
<rect x="436" y="711" width="5" height="5"/>
<rect x="446" y="704" width="1" height="13"/>
<rect x="444" y="705" width="5" height="6"/>
<rect x="454" y="698" width="1" height="12"/>
<rect x="452" y="701" width="5" height="5"/>
<rect x="462" y="686" width="1" height="19"/>
<rect x="460" y="690" width="5" height="13"/>
<rect x="470" y="686" width="1" height="9"/>
<rect x="468" y="689" width="5" height="2"/>
<rect x="486" y="682" width="1" height="20"/>
<rect x="484" y="686" width="5" height="16"/>
<rect x="502" y="690" width="1" height="25"/>
<rect x="500" y="701" width="5" height="7"/>
<rect x="510" y="690" width="1" height="14"/>
<rect x="508" y="696" width="5" height="6"/>
<rect x="518" y="683" width="1" height="16"/>
<rect x="516" y="686" width="5" height="11"/>
<rect x="550" y="748" width="1" height="41"/>
<rect x="548" y="751" width="5" height="9"/>
<rect x="558" y="717" width="1" height="38"/>
<rect x="556" y="722" width="5" height="30"/>
<rect x="566" y="708" width="1" height="18"/>
<rect x="564" y="714" width="5" height="9"/>
<rect x="574" y="681" width="1" height="37"/>
<rect x="572" y="686" width="5" height="29"/>
<rect x="582" y="674" width="1" height="15"/>
<rect x="580" y="685" width="5" height="2"/>
<rect x="590" y="669" width="1" height="25"/>
<rect x="588" y="681" width="5" height="4"/>
<rect x="598" y="669" width="1" height="21"/>
<rect x="596" y="678" width="5" height="4"/>
<rect x="606" y="667" width="1" height="22"/>
<rect x="604" y="674" width="5" height="5"/>
<rect x="614" y="657" width="1" height="32"/>
<rect x="612" y="671" width="5" height="4"/>
<rect x="622" y="639" width="1" height="38"/>
<rect x="620" y="664" width="5" height="7"/>
<rect x="646" y="661" width="1" height="9"/>
<rect x="644" y="666" width="5" height="2"/>
<rect x="654" y="661" width="1" height="8"/>
<rect x="652" y="664" width="5" height="2"/>
<rect x="662" y="656" width="1" height="11"/>
<rect x="660" y="656" width="5" height="9"/>
<rect x="670" y="675" width="1" height="11"/>
<rect x="668" y="677" width="5" height="9"/>
<rect x="678" y="654" width="1" height="25"/>
<rect x="676" y="663" width="5" height="11"/>
<rect x="702" y="694" width="1" height="23"/>
<rect x="700" y="703" width="5" height="13"/>
<rect x="710" y="688" width="1" height="19"/>
<rect x="708" y="690" width="5" height="14"/>
<rect x="726" y="669" width="1" height="26"/>
<rect x="724" y="677" width="5" height="17"/>
<rect x="734" y="665" width="1" height="26"/>
<rect x="732" y="673" width="5" height="5"/>
<rect x="742" y="657" width="1" height="26"/>
<rect x="740" y="658" width="5" height="17"/>
<rect x="750" y="643" width="1" height="27"/>
<rect x="748" y="653" width="5" height="5"/>
<rect x="758" y="633" width="1" height="20"/>
<rect x="756" y="642" width="5" height="11"/>
<rect x="766" y="634" width="1" height="17"/>
<rect x="764" y="637" width="5" height="6"/>
<rect x="774" y="627" width="1" height="16"/>
<rect x="772" y="628" width="5" height="10"/>
<rect x="790" y="617" width="1" height="26"/>
<rect x="788" y="622" width="5" height="10"/>
<rect x="798" y="590" width="1" height="64"/>
<rect x="796" y="596" width="5" height="27"/>
<rect x="806" y="575" width="1" height="31"/>
<rect x="804" y="592" width="5" height="5"/>
<rect x="814" y="579" width="1" height="18"/>
<rect x="812" y="587" width="5" height="7"/>
<rect x="830" y="602" width="1" height="11"/>
<rect x="828" y="606" width="5" height="2"/>
<rect x="838" y="585" width="1" height="24"/>
<rect x="836" y="585" width="5" height="22"/>
<rect x="846" y="582" width="1" height="12"/>
<rect x="844" y="583" width="5" height="3"/>
<rect x="878" y="571" width="1" height="33"/>
<rect x="876" y="572" width="5" height="23"/>
<rect x="894" y="586" width="1" height="22"/>
<rect x="892" y="591" width="5" height="10"/>
<rect x="910" y="576" width="1" height="23"/>
<rect x="908" y="582" width="5" height="16"/>
<rect x="918" y="559" width="1" height="34"/>
<rect x="916" y="572" width="5" height="11"/>
<rect x="934" y="548" width="1" height="29"/>
<rect x="932" y="549" width="5" height="25"/>
<rect x="942" y="518" width="1" height="33"/>
<rect x="940" y="530" width="5" height="20"/>
<rect x="966" y="548" width="1" height="18"/>
<rect x="964" y="550" width="5" height="15"/>
<rect x="974" y="527" width="1" height="24"/>
<rect x="972" y="528" width="5" height="22"/>
<rect x="990" y="505" width="1" height="29"/>
<rect x="988" y="524" width="5" height="6"/>
<rect x="998" y="455" width="1" height="70"/>
<rect x="996" y="461" width="5" height="63"/>
<rect x="1014" y="454" width="1" height="13"/>
<rect x="1012" y="455" width="5" height="8"/>
<rect x="1038" y="454" width="1" height="15"/>
<rect x="1036" y="457" width="5" height="10"/>
<rect x="1054" y="454" width="1" height="23"/>
<rect x="1052" y="466" width="5" height="6"/>
<rect x="1102" y="488" width="1" height="12"/>
<rect x="1100" y="492" width="5" height="6"/>
<rect x="1110" y="480" width="1" height="18"/>
<rect x="1108" y="482" width="5" height="11"/>
<rect x="1134" y="482" width="1" height="18"/>
<rect x="1132" y="486" width="5" height="4"/>
<rect x="1142" y="459" width="1" height="28"/>
<rect x="1140" y="468" width="5" height="19"/>
<rect x="1166" y="476" width="1" height="11"/>
<rect x="1164" y="481" width="5" height="2"/>
<rect x="1214" y="512" width="1" height="24"/>
<rect x="1212" y="519" width="5" height="16"/>
<rect x="1238" y="561" width="1" height="23"/>
<rect x="1236" y="574" width="5" height="9"/>
<rect x="1246" y="571" width="1" height="20"/>
<rect x="1244" y="573" width="5" height="16"/>
<rect x="1262" y="589" width="1" height="42"/>
<rect x="1260" y="599" width="5" height="8"/>
<rect x="1278" y="603" width="1" height="38"/>
<rect x="1276" y="603" width="5" height="8"/>
<rect x="1294" y="592" width="1" height="32"/>
<rect x="1292" y="594" width="5" height="20"/>
<rect x="1302" y="564" width="1" height="32"/>
<rect x="1300" y="565" width="5" height="30"/>
<rect x="1318" y="567" width="1" height="25"/>
<rect x="1316" y="570" width="5" height="10"/>
<rect x="1342" y="580" width="1" height="20"/>
<rect x="1340" y="591" width="5" height="2"/>
<rect x="1382" y="680" width="1" height="30"/>
<rect x="1380" y="681" width="5" height="26"/>
<rect x="1398" y="665" width="1" height="30"/>
<rect x="1396" y="672" width="5" height="12"/>
<rect x="1406" y="650" width="1" height="27"/>
<rect x="1404" y="656" width="5" height="17"/>
<rect x="1414" y="626" width="1" height="31"/>
<rect x="1412" y="626" width="5" height="31"/>
<rect x="1454" y="626" width="1" height="19"/>
<rect x="1452" y="633" width="5" height="6"/>
</g>
<g fill="#00bfff">
<rect x="6" y="567" width="1" height="21"/>
<rect x="4" y="569" width="5" height="15"/>
<rect x="22" y="564" width="1" height="15"/>
<rect x="20" y="572" width="5" height="6"/>
<rect x="30" y="562" width="1" height="21"/>
<rect x="28" y="577" width="5" height="4"/>
<rect x="38" y="551" width="1" height="47"/>
<rect x="36" y="580" width="5" height="11"/>
<rect x="70" y="574" width="1" height="20"/>
<rect x="68" y="575" width="5" height="13"/>
<rect x="78" y="587" width="1" height="13"/>
<rect x="76" y="587" width="5" height="10"/>
<rect x="102" y="586" width="1" height="18"/>
<rect x="100" y="594" width="5" height="10"/>
<rect x="118" y="601" width="1" height="25"/>
<rect x="116" y="602" width="5" height="17"/>
<rect x="134" y="609" width="1" height="14"/>
<rect x="132" y="611" width="5" height="8"/>
<rect x="158" y="613" width="1" height="25"/>
<rect x="156" y="614" width="5" height="11"/>
<rect x="174" y="606" width="1" height="12"/>
<rect x="172" y="615" width="5" height="1"/>
<rect x="182" y="615" width="1" height="21"/>
<rect x="180" y="617" width="5" height="7"/>
<rect x="190" y="620" width="1" height="19"/>
<rect x="188" y="623" width="5" height="13"/>
<rect x="198" y="635" width="1" height="16"/>
<rect x="196" y="635" width="5" height="15"/>
<rect x="206" y="647" width="1" height="11"/>
<rect x="204" y="649" width="5" height="1"/>
<rect x="222" y="636" width="1" height="32"/>
<rect x="220" y="640" width="5" height="20"/>
<rect x="230" y="626" width="1" height="51"/>
<rect x="228" y="658" width="5" height="18"/>
<rect x="238" y="671" width="1" height="32"/>
<rect x="236" y="675" width="5" height="7"/>
<rect x="246" y="675" width="1" height="18"/>
<rect x="244" y="681" width="5" height="7"/>
<rect x="278" y="662" width="1" height="16"/>
<rect x="276" y="673" width="5" height="4"/>
<rect x="286" y="673" width="1" height="23"/>
<rect x="284" y="676" width="5" height="11"/>
<rect x="294" y="672" width="1" height="21"/>
<rect x="292" y="685" width="5" height="4"/>
<rect x="326" y="633" width="1" height="21"/>
<rect x="324" y="649" width="5" height="5"/>
<rect x="342" y="638" width="1" height="42"/>
<rect x="340" y="643" width="5" height="32"/>
<rect x="358" y="657" width="1" height="20"/>
<rect x="356" y="665" width="5" height="8"/>
<rect x="366" y="670" width="1" height="64"/>
<rect x="364" y="672" width="5" height="34"/>
<rect x="374" y="696" width="1" height="34"/>
<rect x="372" y="704" width="5" height="24"/>
<rect x="382" y="717" width="1" height="21"/>
<rect x="380" y="727" width="5" height="9"/>
<rect x="390" y="730" width="1" height="35"/>
<rect x="388" y="735" width="5" height="30"/>
<rect x="414" y="722" width="1" height="39"/>
<rect x="412" y="729" width="5" height="6"/>
<rect x="422" y="716" width="1" height="46"/>
<rect x="420" y="734" width="5" height="17"/>
<rect x="478" y="696" width="1" height="16"/>
<rect x="476" y="701" width="5" height="1"/>
<rect x="494" y="673" width="1" height="37"/>
<rect x="492" y="686" width="5" height="22"/>
<rect x="526" y="687" width="1" height="43"/>
<rect x="524" y="688" width="5" height="26"/>
<rect x="534" y="713" width="1" height="49"/>
<rect x="532" y="713" width="5" height="43"/>
<rect x="542" y="742" width="1" height="32"/>
<rect x="540" y="755" width="5" height="5"/>
<rect x="630" y="658" width="1" height="13"/>
<rect x="628" y="664" width="5" height="3"/>
<rect x="638" y="662" width="1" height="11"/>
<rect x="636" y="666" width="5" height="2"/>
<rect x="686" y="661" width="1" height="35"/>
<rect x="684" y="663" width="5" height="32"/>
<rect x="694" y="685" width="1" height="31"/>
<rect x="692" y="694" width="5" height="21"/>
<rect x="718" y="687" width="1" height="10"/>
<rect x="716" y="690" width="5" height="4"/>
<rect x="782" y="618" width="1" height="16"/>
<rect x="780" y="627" width="5" height="5"/>
<rect x="822" y="583" width="1" height="27"/>
<rect x="820" y="587" width="5" height="20"/>
<rect x="854" y="579" width="1" height="7"/>
<rect x="852" y="582" width="5" height="3"/>
<rect x="862" y="586" width="1" height="14"/>
<rect x="860" y="587" width="5" height="5"/>
<rect x="870" y="577" width="1" height="19"/>
<rect x="868" y="590" width="5" height="5"/>
<rect x="886" y="569" width="1" height="35"/>
<rect x="884" y="572" width="5" height="29"/>
<rect x="902" y="588" width="1" height="12"/>
<rect x="900" y="591" width="5" height="7"/>
<rect x="926" y="557" width="1" height="23"/>
<rect x="924" y="572" width="5" height="2"/>
<rect x="950" y="530" width="1" height="48"/>
<rect x="948" y="530" width="5" height="33"/>
<rect x="958" y="547" width="1" height="22"/>
<rect x="956" y="562" width="5" height="3"/>
<rect x="982" y="507" width="1" height="31"/>
<rect x="980" y="527" width="5" height="3"/>
<rect x="1006" y="455" width="1" height="15"/>
<rect x="1004" y="461" width="5" height="2"/>
<rect x="1022" y="454" width="1" height="7"/>
<rect x="1020" y="455" width="5" height="4"/>
<rect x="1030" y="450" width="1" height="20"/>
<rect x="1028" y="458" width="5" height="9"/>
<rect x="1046" y="452" width="1" height="9"/>
<rect x="1044" y="457" width="5" height="2"/>
<rect x="1062" y="455" width="1" height="16"/>
<rect x="1060" y="467" width="5" height="4"/>
<rect x="1070" y="453" width="1" height="31"/>
<rect x="1068" y="470" width="5" height="12"/>
<rect x="1078" y="474" width="1" height="14"/>
<rect x="1076" y="481" width="5" height="2"/>
<rect x="1086" y="480" width="1" height="13"/>
<rect x="1084" y="482" width="5" height="8"/>
<rect x="1094" y="485" width="1" height="17"/>
<rect x="1092" y="489" width="5" height="10"/>
<rect x="1118" y="475" width="1" height="14"/>
<rect x="1116" y="482" width="5" height="6"/>
<rect x="1126" y="476" width="1" height="16"/>
<rect x="1124" y="487" width="5" height="3"/>
<rect x="1150" y="462" width="1" height="17"/>
<rect x="1148" y="468" width="5" height="6"/>
<rect x="1158" y="473" width="1" height="12"/>
<rect x="1156" y="474" width="5" height="9"/>
<rect x="1174" y="481" width="1" height="22"/>
<rect x="1172" y="482" width="5" height="21"/>
<rect x="1182" y="492" width="1" height="26"/>
<rect x="1180" y="502" width="5" height="8"/>
<rect x="1190" y="505" width="1" height="24"/>
<rect x="1188" y="509" width="5" height="4"/>
<rect x="1198" y="510" width="1" height="23"/>
<rect x="1196" y="512" width="5" height="19"/>
<rect x="1206" y="522" width="1" height="21"/>
<rect x="1204" y="530" width="5" height="5"/>
<rect x="1222" y="486" width="1" height="76"/>
<rect x="1220" y="520" width="5" height="21"/>
<rect x="1230" y="534" width="1" height="67"/>
<rect x="1228" y="540" width="5" height="43"/>
<rect x="1254" y="571" width="1" height="52"/>
<rect x="1252" y="573" width="5" height="34"/>
<rect x="1270" y="596" width="1" height="34"/>
<rect x="1268" y="599" width="5" height="12"/>
<rect x="1286" y="601" width="1" height="21"/>
<rect x="1284" y="603" width="5" height="11"/>
<rect x="1310" y="552" width="1" height="30"/>
<rect x="1308" y="566" width="5" height="14"/>
<rect x="1326" y="566" width="1" height="37"/>
<rect x="1324" y="570" width="5" height="19"/>
<rect x="1334" y="571" width="1" height="24"/>
<rect x="1332" y="588" width="5" height="4"/>
<rect x="1350" y="589" width="1" height="17"/>
<rect x="1348" y="590" width="5" height="14"/>
<rect x="1358" y="597" width="1" height="40"/>
<rect x="1356" y="604" width="5" height="25"/>
<rect x="1366" y="622" width="1" height="53"/>
<rect x="1364" y="628" width="5" height="40"/>
<rect x="1374" y="665" width="1" height="46"/>
<rect x="1372" y="667" width="5" height="40"/>
<rect x="1390" y="666" width="1" height="24"/>
<rect x="1388" y="681" width="5" height="3"/>
<rect x="1422" y="616" width="1" height="23"/>
<rect x="1420" y="626" width="5" height="1"/>
<rect x="1430" y="622" width="1" height="11"/>
<rect x="1428" y="626" width="5" height="5"/>
<rect x="1438" y="631" width="1" height="6"/>
<rect x="1436" y="631" width="5" height="5"/>
<rect x="1446" y="623" width="1" height="24"/>
<rect x="1444" y="635" width="5" height="4"/>
</g>
<g fill="#00ff7f">
<rect x="254" y="680" width="1" height="14"/>
<rect x="252" y="687" width="5" height="1"/>
</g>
</g>
<path fill="#ff0000" d="M1149 474h6v1h-6zM1146 475h3v1h-3zM1155 475h8v1h-8zM1144 476h2v1h-2zM1163 476h6v1h-6zM1141 477h3v1h-3zM1169 477h3v1h-3zM1138 478h3v1h-3zM1172 478h4v1h-4zM1136 479h2v1h-2zM1176 479h2v1h-2zM1132 480h4v1h-4zM1178 480h3v1h-3zM1129 481h3v1h-3zM1181 481h3v1h-3zM1125 482h4v1h-4zM1184 482h2v1h-2zM1122 483h3v1h-3zM1186 483h3v1h-3zM1120 484h2v1h-2zM1189 484h3v1h-3zM1117 485h3v1h-3zM1192 485h2v1h-2zM1116 486h1v1h-1zM1194 486h3v1h-3zM1113 487h3v1h-3zM1197 487h3v1h-3zM1112 488h1v1h-1zM1200 488h1v1h-1zM1109 489h3v1h-3zM1201 489h3v1h-3zM1106 490h3v1h-3zM1204 490h1v1h-1zM1104 491h2v1h-2zM1205 491h3v1h-3zM1101 492h3v1h-3zM1208 492h2v1h-2zM1098 493h3v1h-3zM1210 493h3v1h-3zM1096 494h2v1h-2zM1213 494h3v1h-3zM1093 495h3v1h-3zM1216 495h2v1h-2zM1090 496h3v1h-3zM1218 496h3v1h-3zM1088 497h2v1h-2zM1221 497h2v1h-2zM1085 498h3v1h-3zM1223 498h2v1h-2zM1084 499h1v1h-1zM1225 499h2v1h-2zM1081 500h3v1h-3zM1227 500h1v1h-1zM1080 501h1v1h-1zM1228 501h2v1h-2zM1078 502h2v1h-2zM1230 502h1v1h-1zM1076 503h2v1h-2zM1231 503h2v1h-2zM1075 504h1v1h-1zM1233 504h2v1h-2zM1073 505h2v1h-2zM1235 505h1v1h-1zM1071 506h2v1h-2zM1236 506h2v1h-2zM1070 507h1v1h-1zM1238 507h2v1h-2zM1068 508h2v1h-2zM1240 508h1v1h-1zM1067 509h1v1h-1zM1241 509h3v1h-3zM1065 510h2v1h-2zM1244 510h1v1h-1zM1063 511h2v1h-2zM1245 511h2v1h-2zM1062 512h1v1h-1zM1247 512h2v1h-2zM1061 513h1v1h-1zM1249 513h2v1h-2zM1059 514h2v1h-2zM1251 514h1v1h-1zM1058 515h1v1h-1zM1252 515h2v1h-2zM1056 516h2v1h-2zM1254 516h1v1h-1zM1055 517h1v1h-1zM1255 517h1v1h-1zM1054 518h1v1h-1zM1256 518h2v1h-2zM1053 519h1v1h-1zM1258 519h1v1h-1zM1051 520h2v1h-2zM1259 520h2v1h-2zM1050 521h1v1h-1zM1261 521h1v1h-1zM1048 522h2v1h-2zM1262 522h1v1h-1zM1047 523h1v1h-1zM1263 523h1v1h-1zM1046 524h1v1h-1zM1264 524h2v1h-2zM1045 525h1v1h-1zM1266 525h1v1h-1zM1044 526h1v1h-1zM1267 526h2v1h-2zM1042 527h2v1h-2zM1269 527h1v1h-1zM1041 528h1v1h-1zM1270 528h1v1h-1zM1040 529h1v1h-1zM1271 529h1v1h-1zM1039 530h1v1h-1zM1272 530h2v1h-2zM1038 531h1v1h-1zM1274 531h1v1h-1zM1037 532h1v1h-1zM1275 532h2v1h-2zM1035 533h2v1h-2zM1277 533h1v1h-1zM1034 534h1v1h-1zM1278 534h1v1h-1zM1032 535h2v1h-2zM1279 535h1v1h-1zM1031 536h1v1h-1zM1280 536h2v1h-2zM1030 537h1v1h-1zM1282 537h1v1h-1zM1029 538h1v1h-1zM1283 538h2v1h-2zM1028 539h1v1h-1zM1285 539h1v1h-1zM1026 540h2v1h-2zM1286 540h1v1h-1zM1025 541h1v1h-1zM1287 541h2v1h-2zM1024 542h1v1h-1zM1289 542h2v1h-2zM1023 543h1v1h-1zM1291 543h1v1h-1zM1022 544h1v1h-1zM1292 544h2v1h-2zM1021 545h1v1h-1zM1294 545h1v1h-1zM1019 546h2v1h-2zM1295 546h2v1h-2zM1018 547h1v1h-1zM1297 547h2v1h-2zM1016 548h2v1h-2zM1299 548h1v1h-1zM1015 549h1v1h-1zM1300 549h2v1h-2zM1014 550h1v1h-1zM1302 550h1v1h-1zM1013 551h1v1h-1zM1303 551h2v1h-2zM1011 552h2v1h-2zM1305 552h2v1h-2zM1010 553h1v1h-1zM1307 553h1v1h-1zM1008 554h2v1h-2zM1308 554h2v1h-2zM1007 555h1v1h-1zM1310 555h1v1h-1zM1006 556h1v1h-1zM1311 556h1v1h-1zM1005 557h1v1h-1zM1312 557h2v1h-2zM1004 558h1v1h-1zM1314 558h1v1h-1zM1002 559h2v1h-2zM1315 559h2v1h-2zM1001 560h1v1h-1zM1317 560h1v1h-1zM1000 561h1v1h-1zM1318 561h2v1h-2zM999 562h1v1h-1zM1320 562h1v1h-1zM998 563h1v1h-1zM1321 563h3v1h-3zM997 564h1v1h-1zM1324 564h1v1h-1zM995 565h2v1h-2zM1325 565h2v1h-2zM994 566h1v1h-1zM1327 566h2v1h-2zM992 567h2v1h-2zM1329 567h2v1h-2zM991 568h1v1h-1zM1331 568h1v1h-1zM989 569h2v1h-2zM1332 569h2v1h-2zM986 570h3v1h-3zM1334 570h2v1h-2zM984 571h2v1h-2zM1336 571h1v1h-1zM981 572h3v1h-3zM1337 572h3v1h-3zM980 573h1v1h-1zM1340 573h1v1h-1zM977 574h3v1h-3zM1341 574h3v1h-3zM976 575h1v1h-1zM1344 575h1v1h-1zM973 576h3v1h-3zM1345 576h3v1h-3zM970 577h3v1h-3zM1348 577h1v1h-1zM968 578h2v1h-2zM1349 578h2v1h-2zM964 579h4v1h-4zM1351 579h2v1h-2zM961 580h3v1h-3zM1353 580h2v1h-2zM957 581h4v1h-4zM1355 581h1v1h-1zM954 582h3v1h-3zM1356 582h2v1h-2zM952 583h2v1h-2zM1358 583h1v1h-1zM949 584h3v1h-3zM1359 584h1v1h-1zM946 585h3v1h-3zM1360 585h1v1h-1zM944 586h2v1h-2zM1361 586h1v1h-1zM941 587h3v1h-3zM1362 587h2v1h-2zM107 588h16v1h-16zM940 588h1v1h-1zM1364 588h1v1h-1zM99 589h8v1h-8zM123 589h13v1h-13zM937 589h3v1h-3zM1365 589h1v1h-1zM91 590h8v1h-8zM136 590h2v1h-2zM936 590h1v1h-1zM1366 590h1v1h-1zM84 591h7v1h-7zM138 591h3v1h-3zM933 591h3v1h-3zM1367 591h1v1h-1zM81 592h3v1h-3zM141 592h4v1h-4zM932 592h1v1h-1zM1368 592h1v1h-1zM75 593h6v1h-6zM145 593h3v1h-3zM929 593h3v1h-3zM1369 593h1v1h-1zM69 594h6v1h-6zM148 594h5v1h-5zM928 594h1v1h-1zM1370 594h1v1h-1zM66 595h3v1h-3zM153 595h3v1h-3zM925 595h3v1h-3zM1371 595h1v1h-1zM64 596h2v1h-2zM156 596h5v1h-5zM922 596h3v1h-3zM1372 596h1v1h-1zM61 597h3v1h-3zM161 597h3v1h-3zM920 597h2v1h-2zM1373 597h1v1h-1zM58 598h3v1h-3zM164 598h5v1h-5zM917 598h3v1h-3zM1374 598h1v1h-1zM56 599h2v1h-2zM169 599h3v1h-3zM916 599h1v1h-1zM1375 599h1v1h-1zM53 600h3v1h-3zM172 600h5v1h-5zM913 600h3v1h-3zM1376 600h1v1h-1zM50 601h3v1h-3zM177 601h3v1h-3zM912 601h1v1h-1zM1377 601h1v1h-1zM48 602h2v1h-2zM180 602h4v1h-4zM909 602h3v1h-3zM1378 602h2v1h-2zM45 603h3v1h-3zM184 603h2v1h-2zM906 603h3v1h-3zM1380 603h1v1h-1zM42 604h3v1h-3zM186 604h3v1h-3zM904 604h2v1h-2zM1381 604h1v1h-1zM40 605h2v1h-2zM189 605h3v1h-3zM901 605h3v1h-3zM1382 605h1v1h-1zM37 606h3v1h-3zM192 606h2v1h-2zM898 606h3v1h-3zM1383 606h1v1h-1zM34 607h3v1h-3zM194 607h3v1h-3zM896 607h2v1h-2zM1384 607h2v1h-2zM32 608h2v1h-2zM197 608h3v1h-3zM893 608h3v1h-3zM1386 608h1v1h-1zM29 609h3v1h-3zM200 609h2v1h-2zM892 609h1v1h-1zM1387 609h2v1h-2zM26 610h3v1h-3zM202 610h3v1h-3zM889 610h3v1h-3zM1389 610h1v1h-1zM24 611h2v1h-2zM205 611h3v1h-3zM888 611h1v1h-1zM1390 611h1v1h-1zM21 612h3v1h-3zM208 612h2v1h-2zM885 612h3v1h-3zM1391 612h2v1h-2zM20 613h1v1h-1zM210 613h3v1h-3zM884 613h1v1h-1zM1393 613h2v1h-2zM17 614h3v1h-3zM213 614h3v1h-3zM881 614h3v1h-3zM1395 614h1v1h-1zM16 615h1v1h-1zM216 615h1v1h-1zM880 615h1v1h-1zM1396 615h2v1h-2zM14 616h2v1h-2zM217 616h3v1h-3zM878 616h2v1h-2zM1398 616h2v1h-2zM12 617h2v1h-2zM220 617h1v1h-1zM877 617h1v1h-1zM1400 617h1v1h-1zM11 618h1v1h-1zM221 618h3v1h-3zM875 618h2v1h-2zM1401 618h3v1h-3zM9 619h2v1h-2zM224 619h1v1h-1zM874 619h1v1h-1zM1404 619h1v1h-1zM7 620h2v1h-2zM225 620h3v1h-3zM872 620h2v1h-2zM1405 620h6v1h-6zM5 621h2v1h-2zM228 621h1v1h-1zM871 621h1v1h-1zM1411 621h8v1h-8zM4 622h1v1h-1zM229 622h2v1h-2zM870 622h1v1h-1zM1419 622h6v1h-6zM1 623h3v1h-3zM231 623h2v1h-2zM869 623h1v1h-1zM1425 623h3v1h-3zM0 624h1v1h-1zM233 624h2v1h-2zM867 624h2v1h-2zM1428 624h7v1h-7zM235 625h1v1h-1zM866 625h1v1h-1zM1435 625h6v1h-6zM236 626h2v1h-2zM864 626h2v1h-2zM1441 626h3v1h-3zM238 627h2v1h-2zM863 627h1v1h-1zM1444 627h5v1h-5zM240 628h1v1h-1zM862 628h1v1h-1zM1449 628h3v1h-3zM241 629h3v1h-3zM861 629h1v1h-1zM1452 629h2v1h-2zM244 630h1v1h-1zM859 630h2v1h-2zM245 631h3v1h-3zM858 631h1v1h-1zM248 632h1v1h-1zM856 632h2v1h-2zM249 633h3v1h-3zM855 633h1v1h-1zM252 634h1v1h-1zM854 634h1v1h-1zM253 635h3v1h-3zM853 635h1v1h-1zM256 636h1v1h-1zM851 636h2v1h-2zM257 637h3v1h-3zM850 637h1v1h-1zM260 638h1v1h-1zM848 638h2v1h-2zM261 639h3v1h-3zM847 639h1v1h-1zM264 640h1v1h-1zM846 640h1v1h-1zM265 641h3v1h-3zM844 641h2v1h-2zM268 642h1v1h-1zM843 642h1v1h-1zM269 643h3v1h-3zM841 643h2v1h-2zM272 644h2v1h-2zM839 644h2v1h-2zM274 645h3v1h-3zM837 645h2v1h-2zM277 646h3v1h-3zM836 646h1v1h-1zM280 647h2v1h-2zM833 647h3v1h-3zM282 648h3v1h-3zM832 648h1v1h-1zM285 649h3v1h-3zM829 649h3v1h-3zM288 650h1v1h-1zM826 650h3v1h-3zM289 651h3v1h-3zM824 651h2v1h-2zM292 652h1v1h-1zM820 652h4v1h-4zM293 653h3v1h-3zM817 653h3v1h-3zM296 654h1v1h-1zM813 654h4v1h-4zM297 655h3v1h-3zM812 655h1v1h-1zM300 656h1v1h-1zM809 656h3v1h-3zM301 657h3v1h-3zM808 657h1v1h-1zM304 658h2v1h-2zM805 658h3v1h-3zM306 659h3v1h-3zM804 659h1v1h-1zM309 660h4v1h-4zM801 660h3v1h-3zM313 661h3v1h-3zM800 661h1v1h-1zM316 662h5v1h-5zM797 662h3v1h-3zM321 663h3v1h-3zM794 663h3v1h-3zM324 664h5v1h-5zM792 664h2v1h-2zM329 665h3v1h-3zM788 665h4v1h-4zM332 666h7v1h-7zM785 666h3v1h-3zM339 667h6v1h-6zM780 667h5v1h-5zM345 668h3v1h-3zM777 668h3v1h-3zM348 669h5v1h-5zM772 669h5v1h-5zM353 670h3v1h-3zM769 670h3v1h-3zM356 671h5v1h-5zM764 671h5v1h-5zM361 672h3v1h-3zM761 672h3v1h-3zM364 673h4v1h-4zM756 673h5v1h-5zM368 674h1v1h-1zM753 674h3v1h-3zM369 675h3v1h-3zM747 675h6v1h-6zM372 676h1v1h-1zM739 676h8v1h-8zM373 677h3v1h-3zM732 677h7v1h-7zM376 678h1v1h-1zM729 678h3v1h-3zM377 679h3v1h-3zM723 679h6v1h-6zM380 680h1v1h-1zM716 680h7v1h-7zM381 681h3v1h-3zM713 681h3v1h-3zM384 682h1v1h-1zM708 682h5v1h-5zM385 683h3v1h-3zM705 683h3v1h-3zM388 684h1v1h-1zM701 684h4v1h-4zM389 685h3v1h-3zM698 685h3v1h-3zM392 686h1v1h-1zM696 686h2v1h-2zM393 687h3v1h-3zM693 687h3v1h-3zM396 688h1v1h-1zM690 688h3v1h-3zM397 689h3v1h-3zM688 689h2v1h-2zM400 690h2v1h-2zM684 690h4v1h-4zM402 691h3v1h-3zM681 691h3v1h-3zM405 692h4v1h-4zM675 692h6v1h-6zM409 693h3v1h-3zM667 693h8v1h-8zM412 694h5v1h-5zM660 694h7v1h-7zM417 695h3v1h-3zM657 695h3v1h-3zM420 696h5v1h-5zM652 696h5v1h-5zM425 697h3v1h-3zM649 697h3v1h-3zM428 698h5v1h-5zM643 698h6v1h-6zM433 699h3v1h-3zM635 699h8v1h-8zM436 700h7v1h-7zM628 700h7v1h-7zM443 701h8v1h-8zM625 701h3v1h-3zM451 702h8v1h-8zM619 702h6v1h-6zM459 703h8v1h-8zM612 703h7v1h-7zM467 704h6v1h-6zM609 704h3v1h-3zM473 705h3v1h-3zM603 705h6v1h-6zM476 706h5v1h-5zM595 706h8v1h-8zM481 707h3v1h-3zM588 707h7v1h-7zM484 708h5v1h-5zM585 708h3v1h-3zM489 709h3v1h-3zM581 709h4v1h-4zM492 710h5v1h-5zM578 710h3v1h-3zM497 711h3v1h-3zM576 711h2v1h-2zM500 712h5v1h-5zM572 712h4v1h-4zM505 713h3v1h-3zM569 713h3v1h-3zM508 714h21v1h-21zM564 714h5v1h-5zM529 715h3v1h-3zM561 715h3v1h-3zM532 716h7v1h-7zM555 716h6v1h-6zM539 717h16v1h-16z"/>
<rect x="0" y="422" width="1844" height="1" fill="#fff"/>
<rect x="0" y="423" width="1843" height="3" fill="#ff0000"/>
<rect x="1843" y="422" width="1" height="388" fill="#fff"/>
<rect x="0" y="809" width="1844" height="1" fill="#fff"/>
<rect x="1842" y="515" width="3" height="47" fill="#fff"/>
<rect x="0" y="538" width="1843" height="1" fill="#3cb371"/>
<rect x="0" y="604" width="1843" height="1" fill="#ffa500"/>
<rect x="0" y="684" width="1843" height="1" fill="#ffff00"/>
<rect x="0" y="762" width="1843" height="1" fill="#0000ff"/>
<rect x="1844" y="447" width="2" height="1" fill="#fff"/>
<text x="1850" y="452" fill="#fff" textLength="45.5" lengthAdjust="spacingAndGlyphs">156.977</text>
<rect x="1844" y="496" width="2" height="1" fill="#fff"/>
<text x="1850" y="501" fill="#fff" textLength="45.5" lengthAdjust="spacingAndGlyphs">156.602</text>
<rect x="1844" y="545" width="2" height="1" fill="#fff"/>
<text x="1850" y="550" fill="#fff" textLength="45.5" lengthAdjust="spacingAndGlyphs">156.222</text>
<rect x="1844" y="594" width="2" height="1" fill="#fff"/>
<text x="1850" y="599" fill="#fff" textLength="45.5" lengthAdjust="spacingAndGlyphs">155.842</text>
<rect x="1844" y="643" width="2" height="1" fill="#fff"/>
<text x="1850" y="648" fill="#fff" textLength="45.5" lengthAdjust="spacingAndGlyphs">155.462</text>
<rect x="1844" y="692" width="2" height="1" fill="#fff"/>
<text x="1850" y="697" fill="#fff" textLength="45.5" lengthAdjust="spacingAndGlyphs">155.087</text>
<rect x="1844" y="741" width="2" height="1" fill="#fff"/>
<text x="1850" y="746" fill="#fff" textLength="45.5" lengthAdjust="spacingAndGlyphs">154.707</text>
<rect x="1844" y="790" width="2" height="1" fill="#fff"/>
<text x="1850" y="795" fill="#fff" textLength="45.5" lengthAdjust="spacingAndGlyphs">154.327</text>
<rect x="1845" y="532" width="55" height="14" fill="#3cb371"/>
<text x="1850" y="544" fill="#000" textLength="45.5" lengthAdjust="spacingAndGlyphs">156.275</text>
<rect x="1845" y="598" width="55" height="14" fill="#ffa500"/>
<text x="1850" y="610" fill="#000" textLength="45.5" lengthAdjust="spacingAndGlyphs">155.770</text>
<rect x="1845" y="626" width="55" height="14" fill="#ffffff"/>
<text x="1850" y="638" fill="#000" textLength="45.5" lengthAdjust="spacingAndGlyphs">155.541</text>
<rect x="1845" y="678" width="55" height="14" fill="#ffff00"/>
<text x="1850" y="690" fill="#000" textLength="45.5" lengthAdjust="spacingAndGlyphs">155.149</text>
<rect x="1845" y="756" width="55" height="14" fill="#0000ff"/>
<text x="1850" y="768" fill="#000" textLength="45.5" lengthAdjust="spacingAndGlyphs">154.544</text>
<path d="M1 430h9l-4.5 5z" fill="#fff" shape-rendering="crispEdges"/>
<text x="16" y="437" fill="#fff" textLength="86" lengthAdjust="spacingAndGlyphs">USDJPY.raw,H1</text>
<text x="110" y="437" fill="#fff" textLength="196" lengthAdjust="spacingAndGlyphs">155.502 155.594 155.457 155.541</text>
<text x="-3" y="825" fill="#fff" textLength="64" lengthAdjust="spacingAndGlyphs">2 Dec 2025</text>
<rect x="94" y="810" width="1" height="3" fill="#fff"/>
<text x="93" y="825" fill="#fff" textLength="68" lengthAdjust="spacingAndGlyphs">3 Dec 00:00</text>
<rect x="190" y="810" width="1" height="3" fill="#fff"/>
<text x="189" y="825" fill="#fff" textLength="68" lengthAdjust="spacingAndGlyphs">3 Dec 12:00</text>
<rect x="286" y="810" width="1" height="3" fill="#fff"/>
<text x="285" y="825" fill="#fff" textLength="68" lengthAdjust="spacingAndGlyphs">4 Dec 00:00</text>
<rect x="382" y="810" width="1" height="3" fill="#fff"/>
<text x="381" y="825" fill="#fff" textLength="68" lengthAdjust="spacingAndGlyphs">4 Dec 12:00</text>
<rect x="478" y="810" width="1" height="3" fill="#fff"/>
<text x="477" y="825" fill="#fff" textLength="68" lengthAdjust="spacingAndGlyphs">5 Dec 00:00</text>
<rect x="574" y="810" width="1" height="3" fill="#fff"/>
<text x="573" y="825" fill="#fff" textLength="68" lengthAdjust="spacingAndGlyphs">5 Dec 12:00</text>
<rect x="670" y="810" width="1" height="3" fill="#fff"/>
<text x="669" y="825" fill="#fff" textLength="68" lengthAdjust="spacingAndGlyphs">8 Dec 00:00</text>
<rect x="766" y="810" width="1" height="3" fill="#fff"/>
<text x="765" y="825" fill="#fff" textLength="68" lengthAdjust="spacingAndGlyphs">8 Dec 12:00</text>
<rect x="862" y="810" width="1" height="3" fill="#fff"/>
<text x="861" y="825" fill="#fff" textLength="68" lengthAdjust="spacingAndGlyphs">9 Dec 00:00</text>
<rect x="958" y="810" width="1" height="3" fill="#fff"/>
<text x="957" y="825" fill="#fff" textLength="68" lengthAdjust="spacingAndGlyphs">9 Dec 12:00</text>
<rect x="1054" y="810" width="1" height="3" fill="#fff"/>
<text x="1053" y="825" fill="#fff" textLength="75" lengthAdjust="spacingAndGlyphs">10 Dec 00:00</text>
<rect x="1150" y="810" width="1" height="3" fill="#fff"/>
<text x="1149" y="825" fill="#fff" textLength="75" lengthAdjust="spacingAndGlyphs">10 Dec 12:00</text>
<rect x="1246" y="810" width="1" height="3" fill="#fff"/>
<text x="1245" y="825" fill="#fff" textLength="75" lengthAdjust="spacingAndGlyphs">11 Dec 00:00</text>
<rect x="1342" y="810" width="1" height="3" fill="#fff"/>
<text x="1341" y="825" fill="#fff" textLength="75" lengthAdjust="spacingAndGlyphs">11 Dec 12:00</text>
<rect x="1438" y="810" width="1" height="3" fill="#fff"/>
<text x="1437" y="825" fill="#fff" textLength="75" lengthAdjust="spacingAndGlyphs">12 Dec 00:00</text>
</svg>
</body></html>
